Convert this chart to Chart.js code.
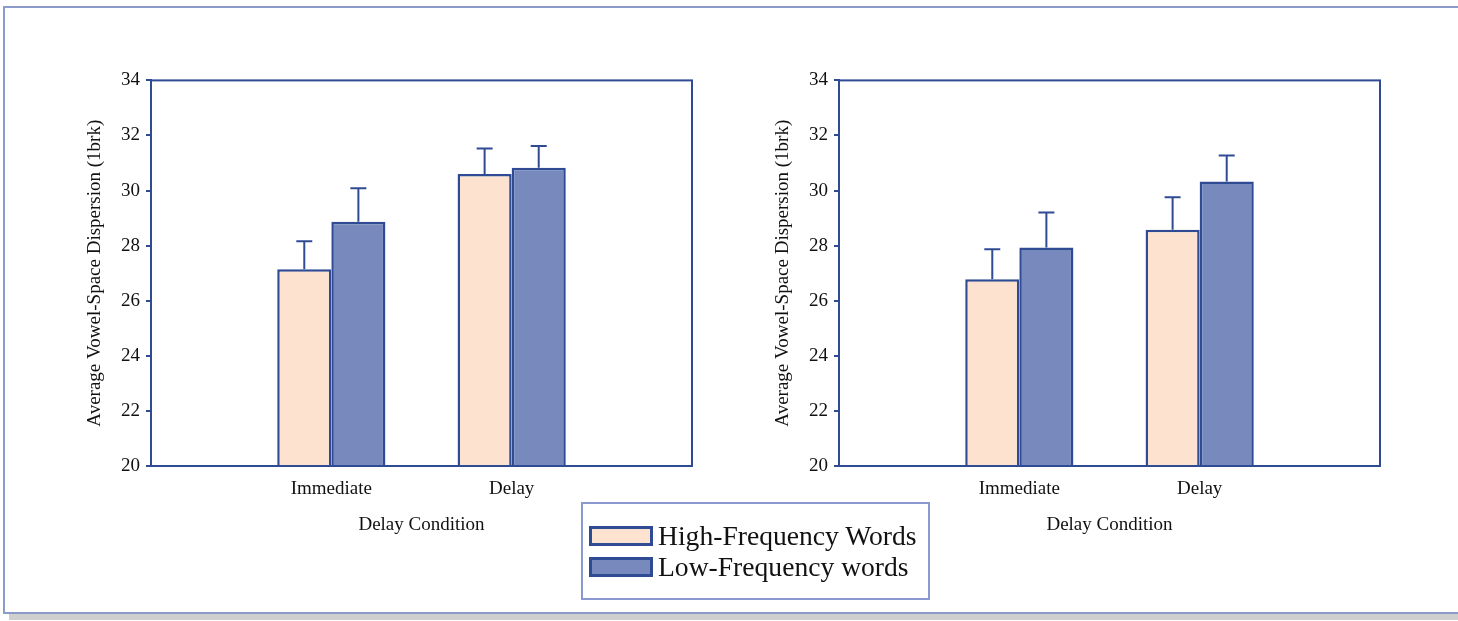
<!DOCTYPE html>
<html lang="en">
<head>
    <meta charset="UTF-8">
    <title>Vowel-Space Dispersion</title>
    <script src="https://cdn.jsdelivr.net/npm/chart.js"></script>
    <style>
        body { margin: 0; background: #fff; width: 1458px; height: 621px; overflow: hidden; position: relative; }
        .frame { position: absolute; left: 3px; top: 6px; width: 1480px; height: 604px; border: 2px solid #8d9bcb; box-shadow: 6px 6px 0 #cfcfcf; }
        canvas { position: absolute; }
        #leftChart { left: 80px; top: 63px; }
        #rightChart { left: 768px; top: 63px; }
        .legend { position: absolute; left: 581px; top: 502px; width: 345px; height: 94px; border: 2px solid #8a9ad0; font-family: "Liberation Serif", serif; font-size: 27.6px; color: #111; }
        .legend .row { position: absolute; left: 6px; height: 30px; display: flex; align-items: center; }
        .legend .swatch { width: 58px; height: 14px; border: 3px solid #2f4b93; margin-right: 5px; }
    </style>
</head>
<body>
    <div class="frame"></div>
    <canvas id="leftChart" width="624" height="487"></canvas>
    <canvas id="rightChart" width="624" height="487"></canvas>
    <div class="legend" id="legend"></div>
    <script>
        // categories (empty slots at both ends keep the bars centred like the original)
        const categories = ['', 'Immediate', 'Delay', ''];
        const seriesNames = ['High-Frequency Words', 'Low-Frequency words'];
        const yTicks = [20, 22, 24, 26, 28, 30, 32, 34];

        // left panel
        const leftHigh = [null, 27.14, 30.6, null];
        const leftHighErr = [null, 1.02, 0.93, null];
        const leftLow = [null, 28.87, 30.83, null];
        const leftLowErr = [null, 1.21, 0.79, null];

        // right panel
        const rightHigh = [null, 26.78, 28.58, null];
        const rightHighErr = [null, 1.09, 1.18, null];
        const rightLow = [null, 27.93, 30.33, null];
        const rightLowErr = [null, 1.27, 0.94, null];

        const ink = '#2f4b93';
        const highFill = '#fde3cf';
        const lowFill = '#7889bd';
        const font = { family: 'Liberation Serif', size: 19 };

        Chart.defaults.color = '#111';
        Chart.defaults.font.family = 'Liberation Serif';

        // upward error bars, from the bar top to value + err
        const errorBars = {
            id: 'errorBars',
            afterDatasetsDraw(chart) {
                const ctx = chart.ctx;
                const y = chart.scales.y;
                ctx.save();
                ctx.strokeStyle = ink;
                ctx.lineWidth = 2;
                chart.data.datasets.forEach((ds, i) => {
                    chart.getDatasetMeta(i).data.forEach((bar, j) => {
                        const err = ds.errors[j];
                        if (ds.data[j] == null || err == null) return;
                        const top = y.getPixelForValue(ds.data[j] + err);
                        ctx.beginPath();
                        ctx.moveTo(bar.x, bar.y);
                        ctx.lineTo(bar.x, top);
                        ctx.moveTo(bar.x - 8, top);
                        ctx.lineTo(bar.x + 8, top);
                        ctx.stroke();
                    });
                });
                ctx.restore();
            }
        };

        // box round the plot area
        const plotBox = {
            id: 'plotBox',
            afterDraw(chart) {
                const a = chart.chartArea;
                const ctx = chart.ctx;
                ctx.save();
                ctx.strokeStyle = ink;
                ctx.lineWidth = 2;
                ctx.strokeRect(a.left, a.top, a.right - a.left, a.bottom - a.top);
                ctx.restore();
            }
        };

        function makeChart(id, high, highErr, low, lowErr) {
            const ctx = document.getElementById(id).getContext('2d');
            return new Chart(ctx, {
                type: 'bar',
                data: {
                    labels: categories,
                    datasets: [{
                        label: seriesNames[0],
                        data: high,
                        errors: highErr,
                        backgroundColor: highFill,
                        borderColor: ink,
                        borderWidth: 2.5,
                        categoryPercentage: 0.6,
                        barPercentage: 1.0
                    }, {
                        label: seriesNames[1],
                        data: low,
                        errors: lowErr,
                        backgroundColor: lowFill,
                        borderColor: ink,
                        borderWidth: 2.5,
                        categoryPercentage: 0.6,
                        barPercentage: 1.0
                    }]
                },
                options: {
                    responsive: false,
                    animation: false,
                    layout: { padding: { top: 10, right: 4 } },
                    plugins: { legend: { display: false }, tooltip: { enabled: false } },
                    scales: {
                        x: {
                            offset: false,
                            grid: { display: false, drawTicks: false },
                            border: { display: false },
                            ticks: { font: font, padding: 12, maxRotation: 0, autoSkip: false },
                            title: { display: true, text: 'Delay Condition', font: font, padding: { top: 0, bottom: 14 } },
                            afterFit(scale) { scale.height = 84; }
                        },
                        y: {
                            min: 20,
                            max: 34,
                            afterBuildTicks(scale) { scale.ticks = yTicks.map(v => ({ value: v })); },
                            grid: { drawOnChartArea: false, color: ink, lineWidth: 2, tickLength: 5 },
                            border: { color: ink, width: 2 },
                            ticks: { font: font, padding: 6 },
                            title: { display: true, text: 'Average Vowel-Space Dispersion (1brk)', font: font, padding: { top: 4, bottom: 0 } },
                            afterFit(scale) { scale.width = 71; }
                        }
                    }
                },
                plugins: [errorBars, plotBox]
            });
        }

        makeChart('leftChart', leftHigh, leftHighErr, leftLow, leftLowErr);
        makeChart('rightChart', rightHigh, rightHighErr, rightLow, rightLowErr);

        // legend shared by both panels
        const legend = document.getElementById('legend');
        [highFill, lowFill].forEach((fill, i) => {
            const row = document.createElement('div');
            row.className = 'row';
            row.style.top = (17 + i * 31) + 'px';
            row.innerHTML = '<span class="swatch" style="background:' + fill + '"></span><span>' + seriesNames[i] + '</span>';
            legend.appendChild(row);
        });
    </script>
</body>
</html>
